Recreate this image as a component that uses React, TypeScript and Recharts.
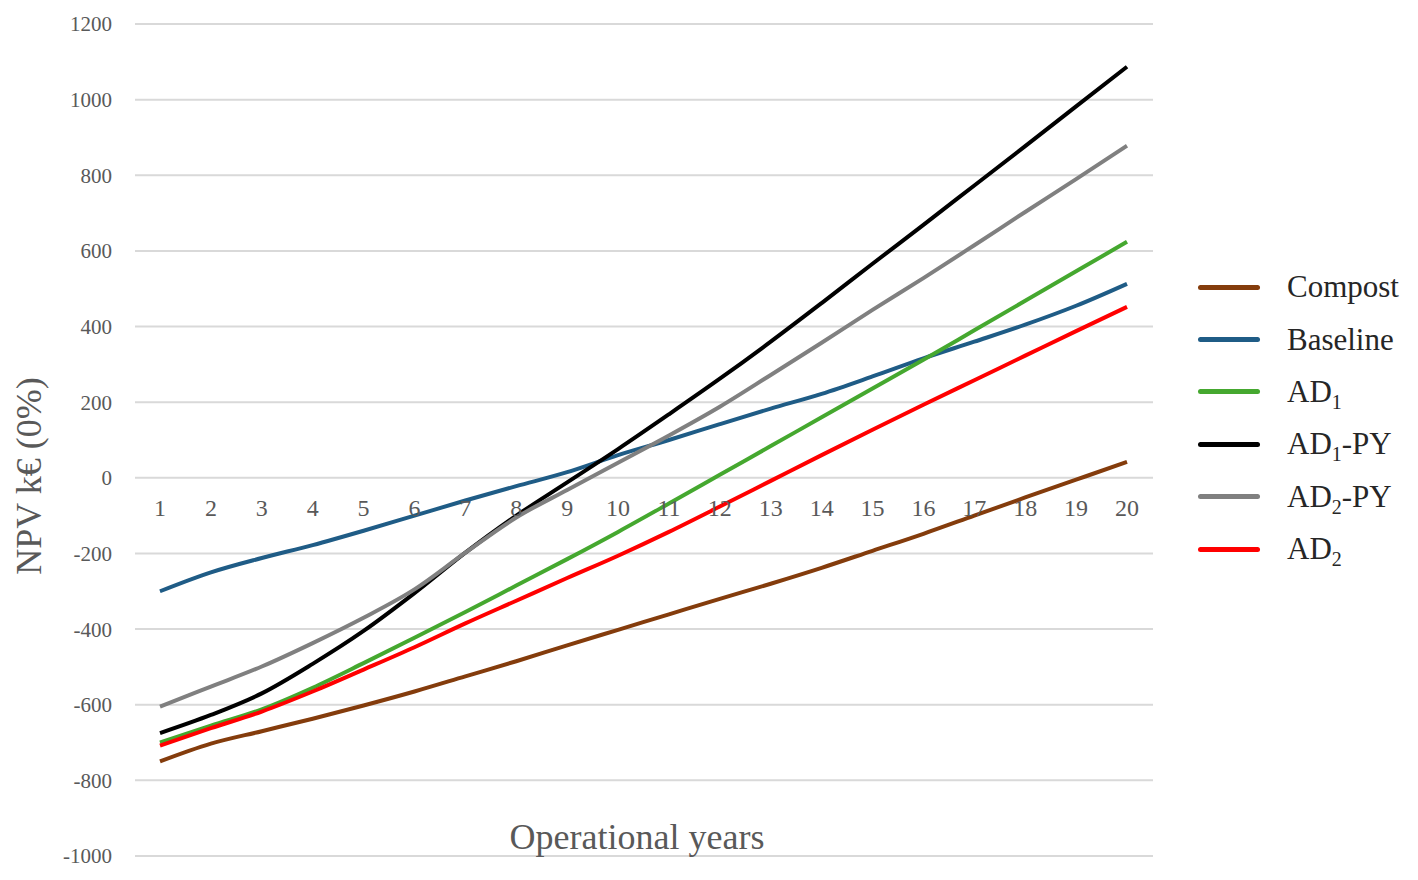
import { LineChart, Line, XAxis, YAxis, CartesianGrid, LabelList } from 'recharts';

// operational years (category axis)
const years = [1, 2, 3, 4, 5, 6, 7, 8, 9, 10, 11, 12, 13, 14, 15, 16, 17, 18, 19, 20];

// NPV k€ (0%) per scenario
const compost = [-750, -703, -670, -637, -602, -565, -525, -485, -443, -402, -361, -320, -280, -238, -193, -148, -100, -52, -5, 42];
const baseline = [-300, -250, -212, -178, -140, -100, -60, -22, 15, 60, 100, 142, 183, 222, 268, 316, 360, 405, 455, 513];
const ad1 = [-700, -655, -612, -555, -490, -423, -355, -285, -215, -143, -68, 8, 84, 160, 236, 312, 390, 468, 546, 624];
const ad1Py = [-675, -627, -570, -492, -405, -305, -198, -100, -12, 76, 168, 262, 360, 462, 566, 669, 773, 877, 982, 1087];
const ad2Py = [-605, -552, -499, -437, -370, -295, -198, -105, -32, 40, 112, 188, 272, 357, 444, 528, 615, 703, 790, 878];
const ad2 = [-708, -662, -618, -565, -507, -448, -385, -325, -265, -206, -143, -76, -8, 60, 127, 193, 258, 323, 388, 452];

const yTicks = [-1000, -800, -600, -400, -200, 0, 200, 400, 600, 800, 1000, 1200];

const series = [
  { key: 'compost', name: 'Compost', sub: '', suffix: '', color: '#843c0c' },
  { key: 'baseline', name: 'Baseline', sub: '', suffix: '', color: '#1f5c86' },
  { key: 'ad1', name: 'AD', sub: '1', suffix: '', color: '#45a82f' },
  { key: 'ad1Py', name: 'AD', sub: '1', suffix: '-PY', color: '#000000' },
  { key: 'ad2Py', name: 'AD', sub: '2', suffix: '-PY', color: '#808080' },
  { key: 'ad2', name: 'AD', sub: '2', suffix: '', color: '#ff0000' },
];

const data = years.map((year, i) => ({
  year,
  axis: 0,
  compost: compost[i],
  baseline: baseline[i],
  ad1: ad1[i],
  ad1Py: ad1Py[i],
  ad2Py: ad2Py[i],
  ad2: ad2[i],
}));

const FONT = '"Liberation Serif", "Times New Roman", serif';
const GREY = '#595959';

const YLabel = (props: any) => {
  const { viewBox } = props;
  const cx = 21;
  const cy = viewBox.y + viewBox.height / 2 + 36;
  return (
    <text
      x={cx}
      y={cy}
      transform={`rotate(-90, ${cx}, ${cy})`}
      textAnchor="middle"
      dominantBaseline="central"
      fontFamily={FONT}
      fontSize={36}
      fill={GREY}
    >
      NPV k€ (0%)
    </text>
  );
};

const XLabel = (props: any) => {
  const { viewBox } = props;
  return (
    <text
      x={viewBox.x + viewBox.width / 2 - 7}
      y={viewBox.y - 7}
      textAnchor="middle"
      fontFamily={FONT}
      fontSize={36}
      fill={GREY}
    >
      Operational years
    </text>
  );
};

const App = () => {
  return (
    <div style={{ position: 'relative', width: 1410, height: 872 }}>
      <LineChart width={1410} height={872} data={data} margin={{ top: 16, right: 265, bottom: 0, left: 0 }}>
        <CartesianGrid vertical={false} stroke="#d9d9d9" strokeWidth={2} />
        <XAxis
          dataKey="year"
          height={24}
          padding={{ left: 25, right: 26 }}
          tick={false}
          axisLine={false}
          tickLine={false}
          label={<XLabel />}
        />
        <YAxis
          width={127}
          domain={[-1000, 1200]}
          ticks={yTicks}
          axisLine={false}
          tickLine={false}
          tickSize={0}
          tickMargin={23}
          tick={{ fontFamily: FONT, fontSize: 21, fill: GREY }}
          label={<YLabel />}
        />
        {/* year labels sit on the zero line */}
        <Line dataKey="axis" stroke="none" dot={false} legendType="none" isAnimationActive={false}>
          <LabelList dataKey="year" position="bottom" offset={21} fontFamily={FONT} fontSize={24} fill={GREY} />
        </Line>
        {series.map((s) => (
          <Line
            key={s.key}
            type="monotone"
            dataKey={s.key}
            stroke={s.color}
            strokeWidth={4}
            dot={false}
            isAnimationActive={false}
          />
        ))}
      </LineChart>
      <div style={{ position: 'absolute', left: 1190, top: 253, fontFamily: FONT, fontSize: 31, color: '#262626' }}>
        {series.map((s) => (
          <div key={s.key} style={{ height: 52.4, display: 'flex', alignItems: 'center' }}>
            <div style={{ width: 62, height: 5, background: s.color, borderRadius: 2.5, marginRight: 27 }} />
            <span style={{ whiteSpace: 'nowrap', lineHeight: '36px' }}>
              {s.name}
              {s.sub && <sub style={{ fontSize: 20, lineHeight: 0 }}>{s.sub}</sub>}
              {s.suffix}
            </span>
          </div>
        ))}
      </div>
    </div>
  );
};

export default App;
